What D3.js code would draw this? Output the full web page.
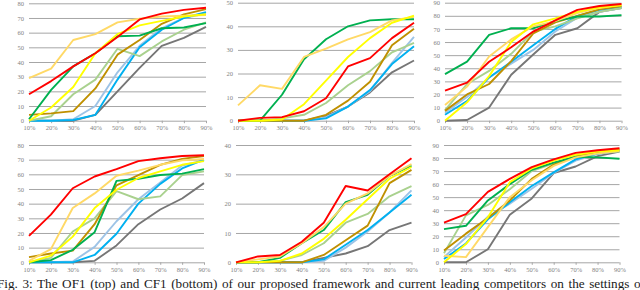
<!DOCTYPE html>
<html>
<head>
<meta charset="utf-8">
<script src="https://cdn.jsdelivr.net/npm/d3@7"></script>
<style>
  body { margin: 0; background: #fff; }
  svg { display: block; }
  .tick text { font-family: "Liberation Serif", "Times New Roman", serif; font-size: 6.5px; fill: #7f7f7f; }
  .caption { font-family: "Liberation Serif", "Times New Roman", serif; font-size: 13.2px; fill: #1a1a1a; }
</style>
</head>
<body>
<svg id="chart" width="640" height="290"></svg>
<script>
// x categories shared by all six panels
var categories = ['10%', '20%', '30%', '40%', '50%', '60%', '70%', '80%', '90%'];

// series order = drawing order (last one on top)
var seriesKeys = ['gray', 'lightBlue', 'blue', 'lightGreen', 'brown', 'green', 'orange', 'yellow', 'red'];
var seriesColors = ['#767676', '#9dc3e6', '#00b0f0', '#a9d18e', '#bf9000', '#00b050', '#ffd966', '#ffff00', '#ff0000'];

// OF1 (top row)
var of1Left = [
  [0, 0, 0, 4, 20, 36, 51, 56.5, 64],
  [0, 0, 1, 10, 33, 51, 63, 70, 73],
  [0, 0, 0.5, 4, 28, 50, 62, 70, 74],
  [0, 3, 18, 28, 49, 44, 54, 62, 67],
  [4, 5, 6.5, 22, 45, 55, 66, 72.5, 76],
  [1, 21, 37, 46, 57.5, 58, 63, 63.5, 66.5],
  [29, 35.5, 55, 59, 67, 69.5, 71, 71.5, 72],
  [0, 9, 23, 46, 59, 65, 68, 71, 72.5],
  [18, 27, 37, 46, 57, 69, 73, 75.5, 77]
];
var of1Mid = [
  [0, 0, 0, 0, 2, 6, 12, 20.5, 25.5],
  [0, 0, 0, 0, 1.5, 6, 12.5, 24.5, 35.5],
  [0, 0, 0, 0, 1, 6, 13, 24, 31.5],
  [0, 0, 1, 2.5, 7.5, 15, 21, 29, 33],
  [0, 0, 0, 0, 2.5, 8.5, 16.5, 32, 39],
  [0, 0, 11, 26, 34.5, 40, 42.5, 43, 43],
  [6.5, 15, 13.5, 27, 30.5, 34.5, 37.5, 42.5, 44],
  [0, 0, 0.5, 7, 17, 27, 35, 41.5, 44.5],
  [0, 1.2, 1.5, 4, 9.5, 23, 26.5, 35, 41.5]
];
var of1Right = [
  [0, 0.5, 10, 35, 50.5, 65.5, 70.5, 83, 86],
  [6, 18, 33, 43.5, 54, 68, 78.5, 83, 86],
  [4.5, 15, 33, 45, 57.5, 70, 80, 84.5, 87],
  [8, 28, 38, 51, 68, 72, 78, 83, 86],
  [7.5, 20, 28, 45.5, 66.5, 75, 80, 85, 87.5],
  [35.5, 45, 65.5, 70.5, 70.5, 76, 79.5, 79.5, 80.5],
  [12, 26, 49, 62, 72, 76, 82, 86, 88.5],
  [0, 14, 34, 60, 73.5, 78, 83, 86.5, 88],
  [23, 29, 45, 56, 68, 76.5, 84.5, 87.5, 89]
];

// CF1 (bottom row)
var cf1Left = [
  [0, 0, 0, 1, 11.5, 26, 36, 43.5, 54],
  [0, 0, 0.5, 10.5, 28, 43, 54.5, 66, 69.5],
  [0, 0, 0, 5, 19.5, 40, 53.5, 64, 70],
  [0, 3, 21, 30, 48.5, 43, 45, 59.5, 62],
  [3.5, 6, 8, 26, 52.5, 59.5, 66.5, 70.5, 72.5],
  [0, 1.5, 8.5, 20.5, 55.5, 57, 59.5, 60.5, 63.5],
  [1, 9, 37, 47, 59, 62.5, 66.5, 69.5, 70.5],
  [0, 4.5, 17.5, 37, 49.5, 57.5, 62, 66.5, 69],
  [18, 32.5, 50.5, 58.5, 63.5, 69, 71, 72.5, 73]
];
var cf1Mid = [
  [0, 0, 0, 0, 1.5, 3, 5.5, 11, 13.5],
  [0, 0, 0, 0, 0.5, 5, 10.5, 17, 24.5],
  [0, 0, 0, 0, 1, 6, 11, 17, 23],
  [0, 0, 0.5, 2.5, 6.5, 13.5, 16.5, 22.5, 26],
  [0, 0, 0, 0, 2.5, 7.5, 12.5, 27, 31.5],
  [0, 0, 1.5, 6.5, 11, 20.5, 23, 29.5, 33],
  [0, 1, 2, 6.5, 12, 20, 23.5, 29.5, 33.5],
  [0, 0, 0.5, 3, 8, 14.5, 21.5, 28.5, 32.5],
  [0, 2, 2.5, 7, 13.5, 26, 24.5, 30, 35.5]
];
var cf1Right = [
  [0, 0, 10, 36.5, 49, 68.5, 73.5, 81.5, 85],
  [4, 19, 35, 45, 56.5, 68.5, 78, 83, 85.5],
  [2.5, 14.5, 33, 46, 58.5, 69, 79, 83.5, 86],
  [7, 36, 44, 56, 70, 76, 81, 84, 85],
  [9, 22, 34, 47.5, 64, 75, 81.5, 84.5, 86.5],
  [25.5, 28, 47.5, 60, 71, 76.5, 81, 80.5, 79.5],
  [5, 4, 27, 50, 63, 74, 80.5, 83.5, 85.5],
  [0, 14, 34.5, 61.5, 72, 78, 82.5, 85, 86],
  [30.5, 37, 54, 64, 73, 79, 84, 86, 87.5]
];

var yMaxes = [80, 50, 90, 80, 40, 90];
var captionText = 'Fig. 3: The OF1 (top) and CF1 (bottom) of our proposed framework and current leading competitors on the settings of';

var panelData = [of1Left, of1Mid, of1Right, cf1Left, cf1Mid, cf1Right];

// panel boxes in pixels: left, right, bottom (value 0), top (max value)
var boxes = [
  {x0: 29, x1: 206, y0: 120.7, y1: 3.3},
  {x0: 238, x1: 414, y0: 120.7, y1: 2.7},
  {x0: 445, x1: 621.5, y0: 120.7, y1: 2.7},
  {x0: 29, x1: 204, y0: 262.3, y1: 145},
  {x0: 236, x1: 411.5, y0: 262.3, y1: 145},
  {x0: 444, x1: 619.5, y0: 262.3, y1: 145}
];

var svg = d3.select('#chart');

panelData.forEach(function(rows, p) {
  var b = boxes[p];
  var x = d3.scalePoint().domain(categories).range([b.x0, b.x1]);
  var y = d3.scaleLinear().domain([0, yMaxes[p]]).range([b.y0, b.y1]);
  var g = svg.append('g');

  // horizontal gridlines + y labels
  var yAxis = d3.axisLeft(y).ticks(yMaxes[p] / 10).tickSize(-(b.x1 - b.x0)).tickPadding(5);
  g.append('g')
    .attr('transform', 'translate(' + b.x0 + ',0)')
    .call(yAxis)
    .call(function(a) {
      a.select('.domain').remove();
      a.selectAll('.tick line').attr('stroke', '#a6a6a6').attr('stroke-width', 1);
    });

  // x labels with small tick marks under the zero line
  g.append('g')
    .attr('transform', 'translate(0,' + b.y0 + ')')
    .call(d3.axisBottom(x).tickSize(2.5).tickPadding(2.5))
    .call(function(a) {
      a.select('.domain').remove();
      a.selectAll('.tick line').attr('stroke', '#a6a6a6');
    });

  var line = d3.line()
    .x(function(d, i) { return x(categories[i]); })
    .y(function(d) { return y(d); });

  g.selectAll('path.series')
    .data(rows)
    .enter().append('path')
    .attr('class', 'series')
    .attr('d', line)
    .attr('fill', 'none')
    .attr('stroke', function(d, i) { return seriesColors[i]; })
    .attr('stroke-width', 1.9)
    .attr('stroke-linejoin', 'round');
});

// caption line, justified with wide word gaps, cut at both sides like the cropped page
var cap = svg.append('text')
  .attr('class', 'caption')
  .attr('x', -3)
  .attr('y', 288)
  .text(captionText);
var natural = cap.node().getComputedTextLength();
var spaces = captionText.split(' ').length - 1;
var target = 648;
var gap = (target - natural) / spaces;
if (gap >= -1) {
  cap.attr('word-spacing', gap + 'px');
} else {
  cap.attr('textLength', target).attr('lengthAdjust', 'spacingAndGlyphs');
}
</script>
</body>
</html>
